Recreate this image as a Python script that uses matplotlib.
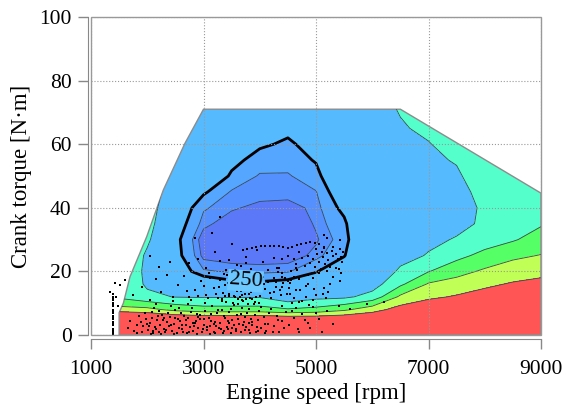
import numpy as np
import matplotlib
matplotlib.use("Agg")
import matplotlib.pyplot as plt
from matplotlib.patches import Polygon, Rectangle

plt.rcParams['font.family'] = ['Liberation Serif', 'DejaVu Serif']

# BSFC map [g/kWh], one list per speed node
speed_nodes = [1000, 1500, 2000, 2500, 3000, 3500, 4000, 4500, 5000,
               5500, 6000, 6500, 7000, 7500, 8000, 8500, 9000]
torque_nodes = [0, 4, 8, 12, 16, 20, 25, 30, 35, 40, 45, 50, 55, 60, 65, 72]

bsfc_1000 = [1100, 680, 460, 380, 365, 360, 360, 362, 366, 370, 375, 380, 385, 390, 395, 400]
bsfc_1500 = [1000, 600, 420, 340, 345, 340, 340, 345, 349, 354, 360, 365, 370, 375, 380, 385]
bsfc_2000 = [1000, 560, 415, 312, 292, 290, 294, 306, 315, 322, 330, 336, 340, 344, 347, 350]
bsfc_2500 = [1000, 545, 385, 298, 275, 262, 255, 254, 258, 263, 270, 278, 284, 288, 292, 296]
bsfc_3000 = [1100, 541, 370, 296, 265, 241, 233, 231, 237, 241, 252, 265, 275, 282, 287, 291]
bsfc_3500 = [1100, 541, 370, 296, 255, 239, 231, 229, 231, 236, 239, 248, 254, 265, 275, 285]
bsfc_4000 = [1100, 541, 370, 296, 253, 238, 231, 228, 228, 233, 238, 239, 245, 252, 262, 275]
bsfc_4500 = [1100, 535, 355, 265, 256, 239, 231, 228, 228, 232, 238, 239, 244, 248, 253, 262]
bsfc_5000 = [1100, 530, 365, 285, 262, 249, 237, 234, 236, 237, 239.5, 246, 251, 255, 266, 275]
bsfc_5500 = [1100, 530, 390, 290, 270, 262, 249, 244, 247, 254, 262, 268, 272, 276, 280, 285]
bsfc_6000 = [1100, 520, 430, 318, 278, 276, 275, 280, 280, 276, 276, 278, 280, 283, 287, 292]
bsfc_6500 = [1100, 520, 470, 410, 340, 305, 290, 286, 285, 284, 285, 287, 290, 293, 298, 302]
bsfc_7000 = [1100, 540, 490, 440, 405, 348, 302, 294, 292, 290, 290, 292, 295, 299, 304, 312]
bsfc_7500 = [1100, 555, 510, 455, 420, 383, 335, 302, 293, 292, 293, 296, 302, 308, 313, 320]
bsfc_8000 = [1100, 565, 525, 470, 440, 408, 365, 325, 304, 303, 307, 316, 322, 328, 333, 340]
bsfc_8500 = [1100, 575, 540, 495, 455, 425, 390, 345, 325, 320, 322, 326, 330, 335, 340, 345]
bsfc_9000 = [1100, 585, 555, 515, 465, 435, 402, 372, 345, 335, 333, 335, 338, 342, 346, 350]

# full-load (WOT) boundary of the map
wot_speed = [1500, 1500, 1575, 1693, 1990, 2286, 2671, 3000, 6500, 9000, 9000]
wot_torque = [0, 7, 10, 18.3, 30.9, 45.6, 60.3, 71, 71, 44.6, 0]

levels = [200, 235, 240, 250, 300, 350, 400, 450, 1500]
fill_colors = ['#5a78f8', '#5590ff', '#55a6ff', '#56baff',
               '#55ffcc', '#55ff66', '#c0ff55', '#ff5555']

# operating points of the drive cycle
idle_pts = [(1390, 0.3), (1390, 1), (1395, 2), (1390, 3), (1395, 4), (1390, 5),
            (1395, 6), (1390, 7), (1395, 8), (1390, 9), (1395, 10), (1390, 11),
            (1395, 12), (1385, 13), (1340, 13.5), (1515, 15.7), (1600, 17.3),
            (1450, 12), (1480, 9), (1420, 16.5), (1390, 1.5), (1395, 3.5),
            (1390, 5.5), (1395, 7.5), (1390, 9.5), (1395, 11.5)]
low_pts = [(1650, 2.1), (1700, 4.5), (1760, 1.2), (1810, 3.3), (1850, 6.0), (1900, 0.8),
           (1930, 2.7), (1980, 5.1), (2010, 1.5), (2050, 3.9), (2080, 7.2), (2110, 0.6),
           (2140, 2.4), (2170, 4.8), (2200, 1.1), (2230, 3.2), (2260, 6.3), (2290, 2.0),
           (2320, 0.9), (2350, 4.1), (2380, 2.8), (2410, 5.6), (2440, 1.4), (2470, 3.5),
           (2500, 7.9), (2530, 0.7), (2560, 2.2), (2590, 4.4), (2620, 1.8), (2650, 6.1),
           (2680, 3.0), (2700, 0.5), (2730, 5.2), (2760, 2.5), (2790, 8.4), (2820, 1.3),
           (2850, 3.7), (2880, 6.6), (2910, 2.1), (2940, 4.9), (2970, 0.9), (3000, 3.3),
           (3030, 7.4), (3060, 1.6), (3090, 5.5), (3120, 2.9), (3150, 9.1), (3180, 0.8),
           (3210, 4.2), (3240, 6.8), (3270, 2.3), (3300, 3.9), (3330, 8.0), (3360, 1.2),
           (3390, 5.4), (3420, 2.6), (3450, 7.3), (3480, 0.6), (3510, 4.6), (3540, 9.5),
           (3570, 2.0), (3600, 6.2), (3630, 3.4), (3660, 1.0), (3690, 8.6), (3720, 4.0),
           (3750, 2.4), (3780, 6.9), (3810, 1.5), (3840, 5.0), (3870, 3.1), (3900, 9.8),
           (3930, 0.9), (3960, 4.7), (3990, 7.7), (4030, 2.2), (4070, 5.8), (4110, 1.4),
           (4150, 3.6), (4200, 8.3), (4250, 2.7), (4300, 6.0), (4350, 1.1), (4400, 4.3),
           (4460, 7.1), (4520, 3.0), (4600, 5.4), (4680, 1.9), (4750, 6.5), (4850, 3.8),
           (4950, 8.9), (5050, 5.0), (5200, 7.6), (5400, 9.2), (5600, 8.1), (5900, 9.6),
           (6200, 10.4), (2060, 0.4), (2190, 5.9), (2340, 1.7), (2480, 0.3), (2610, 3.1),
           (2740, 1.0), (2870, 4.5), (2990, 1.9), (3110, 0.4), (3230, 2.8), (3350, 0.5),
           (3460, 3.8), (3580, 1.3), (3700, 3.0), (3820, 0.7), (3950, 2.6), (2250, 0.3),
           (2550, 5.1), (2830, 2.9), (3140, 4.4), (3440, 1.9), (3740, 5.6), (2120, 8.5),
           (2420, 9.2), (2720, 9.6), (3020, 10.1), (3320, 10.8), (3620, 11.3),
           (4700, 0.8), (4900, 2.2), (5100, 1.0), (5300, 3.5), (4800, 4.6), (5000, 6.8),
           (1820, 0.5), (1880, 4.2), (1960, 7.0), (2030, 2.9), (2090, 5.3), (2160, 1.9),
           (2210, 7.7), (2280, 4.6), (2360, 6.9), (2430, 3.0), (2490, 5.4), (2570, 8.6),
           (2640, 0.9), (2690, 4.7), (2770, 7.1), (2810, 3.9), (2890, 0.4), (2930, 6.2),
           (3010, 5.0), (3070, 2.5), (3130, 6.5), (3190, 3.6), (3260, 7.9), (3310, 1.8),
           (3370, 6.0), (3430, 4.4), (3490, 8.2), (3550, 3.0), (3610, 4.9), (3670, 6.7),
           (3730, 1.6), (3800, 8.1), (3860, 4.2), (3910, 6.4), (3970, 1.2), (4020, 8.8),
           (4090, 3.4), (4160, 6.8), (4230, 0.8), (4330, 4.8), (4430, 2.1), (4580, 7.5),
           (2000, 3.4), (2100, 1.2), (2300, 5.2), (2600, 7.0), (2900, 5.8), (3200, 0.5),
           (3500, 2.2), (3800, 3.7), (4100, 0.6), (4400, 9.0), (2150, 9.8), (2450, 10.6),
           (2780, 10.9), (3080, 11.6), (3380, 12.4), (3680, 11.0), (3990, 10.1)]
mid_pts = [(1750, 12.5), (1900, 15.0), (2050, 11.0), (2150, 17.5), (2250, 13.5),
           (2350, 19.0), (2450, 12.0), (2550, 15.8), (2650, 18.5), (2750, 11.8),
           (2850, 14.2), (2950, 16.9), (3050, 12.7), (3100, 19.5), (3180, 14.8),
           (3250, 11.5), (3300, 17.2), (3350, 13.3), (3380, 15.6), (3420, 18.8),
           (3460, 12.2), (3500, 14.5), (3530, 16.7), (3560, 11.9), (3590, 13.8),
           (3620, 15.3), (3650, 17.9), (3680, 12.6), (3710, 14.1), (3740, 16.2),
           (3770, 19.1), (3800, 13.0), (3830, 15.0), (3860, 11.4), (3890, 17.0),
           (3920, 13.9), (3960, 15.9), (4000, 12.3), (4050, 18.2), (4100, 14.4),
           (4150, 16.6), (4200, 11.7), (4260, 13.6), (4320, 19.7), (4400, 15.2),
           (4480, 12.9), (4560, 17.4), (4650, 14.0), (4750, 10.8), (4850, 16.0),
           (5000, 12.5), (5150, 14.8), (5300, 18.3), (3400, 10.5), (3450, 12.8),
           (3480, 14.9), (3520, 10.2), (3550, 12.4), (3580, 14.6), (3610, 9.7),
           (3640, 11.8), (3670, 13.9), (3700, 10.6), (3730, 12.9), (3760, 14.8),
           (3790, 9.9), (3820, 11.6), (3850, 13.4), (3880, 15.4), (3910, 10.3),
           (3940, 12.0), (2700, 13.8), (2900, 12.4), (3000, 15.5), (3120, 17.8),
           (3220, 13.0), (3280, 15.2), (3330, 11.2), (3370, 19.2), (3440, 16.4),
           (3510, 18.3), (3570, 15.9), (3630, 18.6), (3690, 16.0), (3750, 11.2),
           (3810, 17.5), (3870, 19.6), (3930, 17.4), (3990, 14.2), (4080, 16.0),
           (4180, 13.2), (4280, 16.8), (4380, 12.6), (4450, 18.0), (4520, 14.7),
           (4600, 11.6), (3560, 20.5), (3660, 21.8), (3460, 23.5), (3760, 22.6)]
high_pts = [(2050, 25.0), (2200, 21.5), (2400, 23.0), (2600, 27.5), (2750, 22.5),
            (2900, 24.0), (3050, 21.0), (3200, 26.0), (3300, 23.2), (3400, 20.5),
            (3500, 28.5), (3600, 22.0), (3750, 24.5), (3850, 20.8), (3950, 26.8),
            (4050, 22.8), (4150, 20.3), (4250, 24.2), (3150, 32.0), (3300, 37.0),
            (2850, 30.5)]
trace_pts = [(3700, 26.8), (3780, 27.2), (3860, 27.5), (3940, 27.7), (4020, 27.9),
             (4100, 28.0), (4180, 28.1), (4260, 28.1), (4340, 28.0), (4420, 27.8),
             (4500, 27.5), (4580, 27.8), (4660, 28.3), (4740, 28.7), (4820, 29.0),
             (4900, 29.2), (4980, 29.0), (5060, 28.5), (5140, 27.8),
             (4650, 21.0), (4606, 23.8), (4500, 25.0), (4394, 23.8), (4350, 21.0),
             (4394, 18.2), (4500, 17.0), (4606, 18.2),
             (4900, 22.5), (4950, 24.0), (4980, 21.5), (5020, 25.5), (5050, 23.0),
             (5080, 20.8), (5100, 26.2), (5130, 24.4), (5160, 22.2), (5190, 25.8),
             (5220, 23.5), (5250, 21.4), (5280, 26.5), (5300, 24.8), (5330, 22.9),
             (5360, 25.6), (5390, 23.8), (5420, 26.9), (5450, 24.5), (5470, 22.8),
             (5000, 27.0), (5150, 27.5), (5300, 27.8), (4850, 25.0), (4800, 21.8),
             (4750, 24.2), (4700, 26.1), (4650, 22.4), (5060, 19.5), (5200, 20.0),
             (5350, 21.0), (5480, 26.0), (5410, 20.8),
             (4550, 20.0), (4530, 16.5), (4540, 13.0), (4580, 10.0), (4640, 8.5),
             (4700, 10.5), (4720, 14.0), (4700, 17.5), (4660, 20.5),
             (4850, 19.0), (4820, 15.5), (4830, 12.0), (4880, 9.5), (4940, 11.0),
             (4960, 14.5), (4940, 18.0),
             (4300, 21.0), (4260, 18.0), (4290, 15.0), (4360, 14.0), (4410, 16.5),
             (4400, 19.5),
             (5420, 30.0), (5430, 27.0), (5440, 19.5), (5420, 17.0), (5150, 31.5),
             (5200, 30.5), (5250, 16.0), (5220, 13.5), (5180, 11.5), (5120, 13.0)]

bsfc = np.column_stack([bsfc_1000, bsfc_1500, bsfc_2000, bsfc_2500, bsfc_3000,
                        bsfc_3500, bsfc_4000, bsfc_4500, bsfc_5000, bsfc_5500,
                        bsfc_6000, bsfc_6500, bsfc_7000, bsfc_7500, bsfc_8000,
                        bsfc_8500, bsfc_9000])
X, Y = np.meshgrid(speed_nodes, torque_nodes)
ops = np.array(idle_pts + low_pts + mid_pts + high_pts + trace_pts)

fig = plt.figure(figsize=(5.74, 4.09), dpi=100)
ax = fig.add_axes([91 / 574, 74 / 409, 450 / 574, 318 / 409])

wot = Polygon(np.column_stack([wot_speed, wot_torque]), closed=True,
              facecolor='none', edgecolor='#8c8c8c', linewidth=1.0, zorder=2)
ax.add_patch(wot)

cf = ax.contourf(X, Y, bsfc, levels=levels, colors=fill_colors, zorder=1)
cl = ax.contour(X, Y, bsfc, levels=[235, 240, 300, 350, 400, 450],
                colors='#3b4656', linewidths=0.6, zorder=2)
cb = ax.contour(X, Y, bsfc, levels=[250], colors='black', linewidths=2.0,
                zorder=2)
labels = ax.clabel(cb, inline=True, fmt='%d', fontsize=16,
                   manual=[(3750, 17.5)], inline_spacing=3)
for t in labels:
    t.set_bbox(dict(boxstyle='square,pad=0.05', facecolor='#6cc8ff',
                    edgecolor='none'))
    t.set_zorder(4)
for cs in (cf, cl, cb):
    cs.set_clip_path(wot)

ax.scatter(ops[:, 0], ops[:, 1], s=3.5, marker='s', color='black',
           linewidths=0, zorder=3)

ax.set_xlim(1000, 9000)
ax.set_ylim(0, 100)
ax.set_xticks([1000, 3000, 5000, 7000, 9000])
ax.set_yticks([0, 20, 40, 60, 80, 100])
ax.set_axisbelow(False)
ax.grid(True, linestyle=':', color='#999999', linewidth=0.8)

for s in ['top', 'right']:
    ax.spines[s].set_visible(False)
ax.spines['left'].set_position(('outward', 2))
ax.spines['bottom'].set_position(('outward', 3))
for s in ['left', 'bottom']:
    ax.spines[s].set_color('#888888')
ax.add_patch(Rectangle((0, 0), 1, 1, transform=ax.transAxes, fill=False,
                       edgecolor='#999999', linewidth=1.0, clip_on=False,
                       zorder=4))
ax.tick_params(direction='out', length=7, width=1, color='#888888',
               labelsize=15.5)
ax.tick_params(axis='x', pad=8)
ax.tick_params(axis='y', pad=5)

ax.set_xlabel('Engine speed [rpm]', fontsize=16.5, labelpad=3)
ax.set_ylabel('Crank torque [N·m]', fontsize=16.5, labelpad=5)

fig.savefig('out.png', dpi=100)
